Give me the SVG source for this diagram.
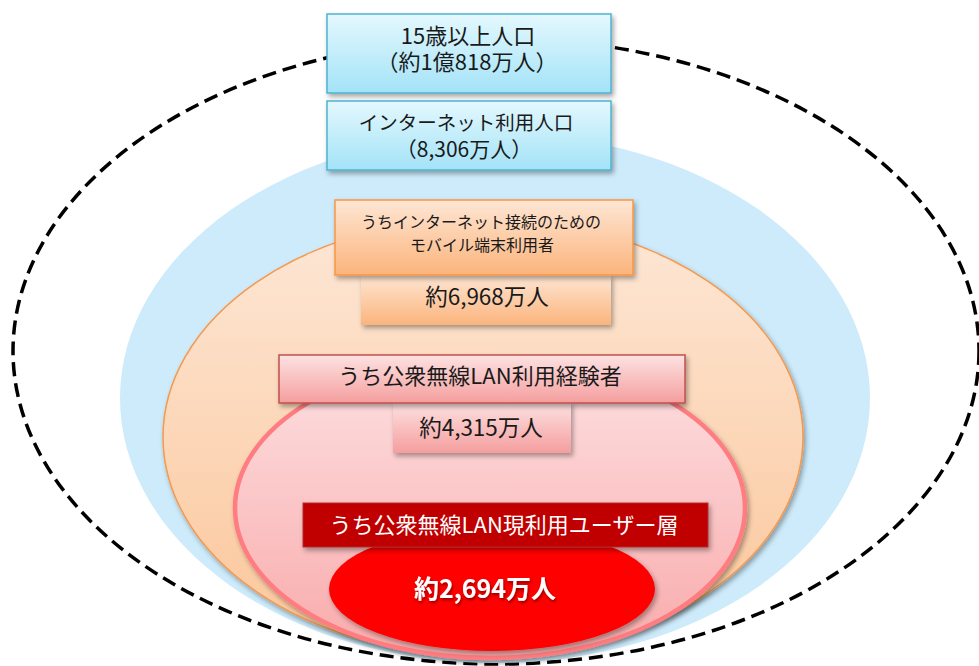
<svg xmlns="http://www.w3.org/2000/svg" width="979" height="666" viewBox="0 0 979 666">
<defs>
<linearGradient id="gBlue" x1="0" y1="0" x2="0" y2="1"><stop offset="0" stop-color="#e4f8fe"/><stop offset="1" stop-color="#a3e3f7"/></linearGradient>
<linearGradient id="gOrangeBox" x1="0" y1="0" x2="0" y2="1"><stop offset="0" stop-color="#fee6d4"/><stop offset="1" stop-color="#fbb47c"/></linearGradient>
<linearGradient id="gPinkBox" x1="0" y1="0" x2="0" y2="1"><stop offset="0" stop-color="#fde2e2"/><stop offset="1" stop-color="#f59e9e"/></linearGradient>
<linearGradient id="gOrangeEl" x1="0" y1="0" x2="0" y2="1"><stop offset="0" stop-color="#fde7d6"/><stop offset="1" stop-color="#fbc699"/></linearGradient>
<linearGradient id="gPinkEl" x1="0" y1="0" x2="0" y2="1"><stop offset="0" stop-color="#fde0e2"/><stop offset="1" stop-color="#f9aaaa"/></linearGradient>
<filter id="sh" x="-10%" y="-20%" width="125%" height="150%"><feDropShadow dx="2" dy="3" stdDeviation="2.5" flood-color="#000" flood-opacity="0.35"/></filter>
<filter id="tsh" x="-10%" y="-30%" width="130%" height="170%"><feDropShadow dx="1" dy="2" stdDeviation="1.5" flood-color="#000" flood-opacity="0.45"/></filter>
</defs>
<style>
text{font-family:"Noto Sans CJK JP","Noto Sans",sans-serif;text-anchor:middle;fill:#1a1a1a;}
.w{fill:#ffffff;}
.b{font-weight:bold;}
</style>
<g id="outer-dashed">
<ellipse cx="496" cy="351" rx="483" ry="313" fill="none" stroke="#000" stroke-width="3.5" stroke-dasharray="14 7"/>
</g>
<g id="internet-area">
<ellipse cx="495" cy="398" rx="375" ry="265" fill="#cdebfb"/>
</g>
<g id="mobile-area">
<ellipse cx="483" cy="437" rx="320" ry="219" fill="url(#gOrangeEl)" stroke="#f4994e" stroke-width="1.5" filter="url(#sh)"/>
</g>
<g id="wlan-exp-area">
<ellipse cx="490" cy="508" rx="255" ry="150" fill="url(#gPinkEl)" stroke="#ff7c80" stroke-width="4.5" filter="url(#sh)"/>
</g>
<g id="wlan-cur-area">
<ellipse cx="492" cy="589" rx="163" ry="62" fill="#ff0000" filter="url(#sh)"/>
<text x="485" y="598" class="w b" font-size="25" filter="url(#tsh)">約2,694万人</text>
</g>
<g id="box-15plus">
<rect x="327" y="14" width="284" height="79" fill="url(#gBlue)" stroke="#4fb3cf" stroke-width="1.5" filter="url(#sh)"/>
<text font-size="22"><tspan x="468" y="44">15歳以上人口</tspan><tspan x="467" y="70">（約1億818万人）</tspan></text>
</g>
<g id="box-internet">
<rect x="327" y="101" width="284" height="69" fill="url(#gBlue)" stroke="#4fb3cf" stroke-width="1.5" filter="url(#sh)"/>
<text><tspan x="466" y="130" font-size="19.5">インターネット利用人口</tspan><tspan x="464" y="157" font-size="21">（8,306万人）</tspan></text>
</g>
<g id="box-mobile">
<rect x="361" y="275" width="250" height="50" fill="url(#gOrangeBox)" filter="url(#sh)"/>
<text x="487" y="305" font-size="22.5">約6,968万人</text>
<rect x="335" y="200" width="298" height="75" fill="url(#gOrangeBox)" stroke="#f79646" stroke-width="1.5" filter="url(#sh)"/>
<text font-size="16"><tspan x="481" y="228">うちインターネット接続のための</tspan><tspan x="482" y="251">モバイル端末利用者</tspan></text>
</g>
<g id="box-wlan-exp">
<rect x="393" y="402" width="178" height="51" fill="url(#gPinkBox)" filter="url(#sh)"/>
<text x="481" y="436" font-size="22.5">約4,315万人</text>
<rect x="279" y="355" width="406" height="48" fill="url(#gPinkBox)" stroke="#c0504d" stroke-width="1.5" filter="url(#sh)"/>
<text x="480" y="384" font-size="22">うち公衆無線LAN利用経験者</text>
</g>
<g id="box-wlan-cur">
<rect x="303" y="503" width="405" height="44" fill="#c00000" stroke="#b03030" stroke-width="1" filter="url(#sh)"/>
<text x="504" y="533" font-size="22" class="w">うち公衆無線LAN現利用ユーザー層</text>
</g>
</svg>
